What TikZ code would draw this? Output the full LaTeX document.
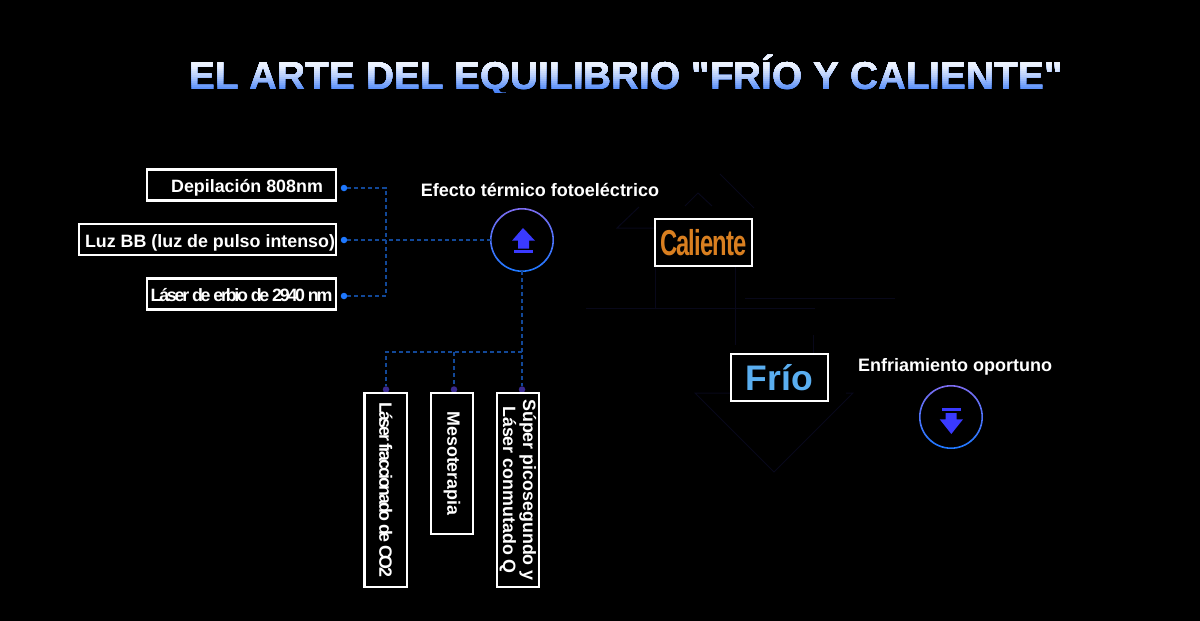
\documentclass[tikz,border=0pt]{standalone}
\usepackage{graphicx}
\usepackage{fontspec}
\setmainfont{Liberation Sans}
\newfontfamily\titlefont{Liberation Sans}
\definecolor{titlelow}{HTML}{4A84F8}
\definecolor{linkblue}{HTML}{124898}
\definecolor{dotblue}{HTML}{1E78FF}
\definecolor{dotviolet}{HTML}{3A2A90}
\definecolor{iconblue}{HTML}{3A3AFF}
\definecolor{ringtop}{HTML}{7C6CF0}
\definecolor{ghostline}{HTML}{08081A}
\definecolor{hotorange}{HTML}{D97F20}
\definecolor{coldblue}{HTML}{5AAEF0}
\tikzset{
  tagbox/.style={draw=white, line width=2.2pt, fill=black, text=white, inner sep=0pt, outer sep=0pt,
    minimum height=31pt, font=\bfseries\fontsize{17.85}{20}\selectfont},
  hbox/.style={tagbox, text height=15pt, text depth=0pt},
  vbox/.style={tagbox, rotate=-90, minimum height=42.5pt, align=center},
  tempbox/.style={draw=white, line width=2.2pt, fill=black, inner sep=0pt, outer sep=0pt,
    minimum width=96.7pt, minimum height=47pt},
  link/.style={draw=linkblue, line width=1.2pt, dash pattern=on 4pt off 3pt},
  linkdot/.style={circle, fill=#1, inner sep=0pt, minimum size=6.5pt},
  ghost/.style={draw=ghostline, line width=1pt},
  heading/.style={text=white, font=\bfseries\fontsize{18}{20}\selectfont},
  iconring/.style={circle, inner sep=0pt, outer sep=0pt, minimum size=62pt},
  ringshade/.style={top color=ringtop, bottom color=dotblue, even odd rule},
}
\begin{document}
\begin{tikzpicture}[x=1pt, y=-1pt]
\fill[black] (0,0) rectangle (1200,621);
\useasboundingbox (0,0) rectangle (1200,621);

% title, strips painted from the bottom up
\foreach \yc/\mix in {92/0,90/5,88/12,86/20,84/28,82/36,80/44,78/52,76/60,74/66,72/72,70/78,68/84,66/88,64/90,62/92}{
  \begin{scope}
    \clip (150,40) rectangle (1100,\yc);
    \node[font=\titlefont\bfseries\fontsize{38.8}{44}\selectfont, text=white!\mix!titlelow, anchor=base] (title\yc) at (626,89) {EL ARTE DEL EQUILIBRIO "FRÍO Y CALIENTE"};
  \end{scope}
}

% faint lines behind
\draw[ghost] (654,228) -- (617,228) -- (639,207);
\draw[ghost] (685,206) -- (698,193) -- (712,206);
\draw[ghost] (720,174) -- (754,208);
\draw[ghost] (655,267) -- (655,308);
\draw[ghost] (735,267) -- (735,345);
\draw[ghost] (586,308) -- (815,308);
\draw[ghost] (745,298) -- (895,298);
\draw[ghost] (813,335) -- (813,353);
\draw[ghost] (730,393) -- (695,393) -- (774,472) -- (853,393) -- (846,393);

% dots
\node[linkdot=dotblue] (d1) at (344,188) {};
\node[linkdot=dotblue] (d2) at (344,240) {};
\node[linkdot=dotblue] (d3) at (344,296) {};
\node[linkdot=dotviolet] (d4) at (386,389.5) {};
\node[linkdot=dotviolet] (d5) at (454,389.5) {};
\node[linkdot=dotviolet] (d6) at (522,389.5) {};

% left boxes
\node[hbox, minimum width=189.5pt] (hair) at (241.5,185) {\hspace*{11pt}Depilación 808nm};
\node[hbox, minimum width=257.5pt] (ipl) at (207.5,239.5) {\hspace*{5pt}Luz BB (luz de pulso intenso)};
\node[hbox, minimum width=189.5pt] (erbium) at (241.5,294) {\addfontfeature{LetterSpace=-12.5}Láser de erbio de 2940 nm};

% lower boxes
\node[vbox, minimum width=194.5pt] (co2) at (385.75,490) {\addfontfeature{LetterSpace=-13}Láser fraccionado de CO2};
\node[vbox, minimum width=141pt] (meso) at (452,463.5) {Mesoterapia};
\node[vbox, minimum width=194.5pt] (pico) at (518,490) {Súper picosegundo y\\Láser conmutado Q};

% rings
\shade[ringshade] (522,240) circle (32) circle (30.4);
\node[iconring] (up) at (522,240) {};
\shade[ringshade] (951,417) circle (32) circle (30.4);
\node[iconring] (down) at (951,417) {};
\fill[iconblue] (523,228) -- (535,240.7) -- (529,240.7) -- (529,248.7) -- (518,248.7) -- (518,240.7) -- (512,240.7) -- cycle;
\fill[iconblue] (514,250) rectangle (533,252.7);
\fill[iconblue] (942,408.3) rectangle (961,410.7);
\fill[iconblue] (945.7,413) -- (956.7,413) -- (956.7,419.3) -- (963,419.3) -- (951.3,434) -- (939.7,419.3) -- (945.7,419.3) -- cycle;

\node[heading] (hotlabel) at (540,190) {Efecto térmico fotoeléctrico};
\node[heading] (coldlabel) at (955,367) {Enfriamiento oportuno};

\node[tempbox, text=hotorange, font=\bfseries\fontsize{36}{38}\selectfont] (hot) at (703.3,242.5) {\scalebox{0.66}[1]{\addfontfeature{LetterSpace=-4}Caliente}};
\node[tempbox, text=coldblue, font=\bfseries\fontsize{35.5}{38}\selectfont] (cold) at (779.3,377.5) {Frío};

% connectors
\coordinate (j1) at (386,188);
\coordinate (j3) at (386,296);
\coordinate (j4) at (386,352);
\coordinate (j5) at (454,352);
\coordinate (j6) at (522,352);
\draw[link] (d1) -- (j1) -- (j3) -- (d3);
\draw[link] (d2) -- (up);
\draw[link] (up) -- (j6) -- (d6);
\draw[link] (j6) -- (j4) -- (d4);
\draw[link] (j5) -- (d5);
\end{tikzpicture}
\end{document}
